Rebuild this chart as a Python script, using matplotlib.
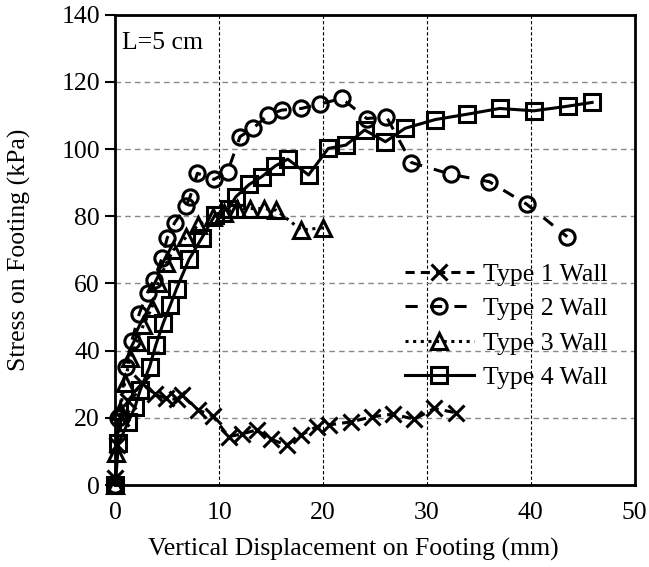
import matplotlib
matplotlib.use('Agg')
import matplotlib.pyplot as plt

plt.rcParams['font.family'] = ['Liberation Serif', 'DejaVu Serif']

# Type 1 wall
x1 = [0, 0.2, 0.5, 1.2, 2.6, 3.8, 4.9, 5.9, 6.4, 8.0, 9.4, 10.9, 12.2, 13.6, 15.0,
      16.5, 17.9, 19.4, 20.6, 22.7, 24.7, 26.7, 28.8, 30.7, 32.8]
y1 = [2, 12, 20, 25, 30.4, 27, 25.8, 25.5, 26.8, 22.3, 20.5, 14.4, 15.2, 16.4, 13.6,
      11.9, 14.9, 17.4, 17.9, 18.8, 20.3, 21.1, 19.6, 22.8, 21.5]

# Type 2 wall
x2 = [0, 0.3, 1.0, 1.6, 2.3, 3.1, 3.7, 4.5, 5.0, 5.7, 6.8, 7.2, 7.9, 9.5, 10.8, 12.0,
      13.3, 14.7, 16.0, 17.9, 19.7, 21.8, 24.2, 26.1, 28.5, 32.3, 36.0, 39.6, 43.5]
y2 = [0, 20, 35, 43, 51, 57.3, 61, 67.6, 73.6, 78, 83, 85.8, 92.8, 91, 93.2, 103.7,
      106.3, 110.1, 111.6, 112.1, 113.4, 115.1, 109.1, 109.6, 96, 92.5, 90.3, 83.6, 73.9]

# Type 3 wall
x3 = [0, 0.1, 0.45, 0.9, 1.4, 2.1, 2.7, 3.5, 4.1, 4.9, 5.6, 6.8, 8.0, 9.4, 10.5,
      11.7, 13.0, 14.3, 15.5, 17.9, 20.0]
y3 = [0, 9.4, 22, 30.3, 37.7, 42.7, 47.6, 52.6, 60, 66, 70, 73.7, 77.4, 79.9, 81,
      82.3, 82.3, 82.3, 81.8, 75.9, 76.6]

# Type 4 wall
x4 = [0, 0.3, 1.25, 1.9, 2.4, 3.3, 3.9, 4.6, 5.3, 5.9, 7.1, 8.3, 9.6, 10.9, 11.6,
      12.9, 14.1, 15.4, 16.6, 18.6, 20.5, 22.2, 24.0, 26.0, 27.9, 30.8, 33.9, 37.0,
      40.3, 43.6, 45.9]
y4 = [0, 12.4, 18.8, 23.3, 28.3, 35.2, 41.7, 48.1, 53.6, 58.5, 67.2, 73.4, 80.4, 82.3,
      85.8, 89.5, 91.8, 95, 97, 92.3, 100.2, 101.2, 105.7, 102.2, 106.2, 108.8, 110.4,
      112.1, 111.4, 112.8, 113.9]

fs = 18.5

fig = plt.figure(figsize=(6.49, 5.67), dpi=100)
ax = fig.add_axes([0.1777, 0.1446, 0.8003, 0.8294])

common = dict(color='black', linewidth=2.2, markersize=11, markeredgewidth=2.2,
              fillstyle='none', clip_on=False, zorder=3)
ax.plot(x1, y1, linestyle=(0, (3, 2)), marker='x', label='Type 1 Wall', **common)
ax.plot(x2, y2, linestyle=(0, (4, 4)), marker='o', label='Type 2 Wall', **common)
ax.plot(x3, y3, linestyle=(0, (1, 1.5)), marker='^', label='Type 3 Wall', **common)
ax.plot(x4, y4, linestyle='-', marker='s', label='Type 4 Wall', **common)

ax.set_xlim(0, 50)
ax.set_ylim(0, 140)
ax.set_xticks(range(0, 51, 10))
ax.set_yticks(range(0, 141, 20))

ax.yaxis.grid(True, color='#888888', linestyle=(0, (4, 3)), linewidth=1)
ax.xaxis.grid(True, color='black', linestyle=(0, (3, 2)), linewidth=0.8)
ax.set_axisbelow(True)

for s in ax.spines.values():
    s.set_linewidth(2)

ax.tick_params(axis='y', direction='out', length=7, width=1.5, labelsize=fs, pad=4)
ax.tick_params(axis='x', direction='in', length=0, labelsize=fs, pad=12)

ax.set_xlabel('Vertical Displacement on Footing (mm)', fontsize=fs)
ax.set_ylabel('Stress on Footing (kPa)', fontsize=fs)
ax.xaxis.set_label_coords(0.459, -0.112)
ax.yaxis.set_label_coords(-0.162, 0.5)

ax.text(0.65, 131.5, 'L=5 cm', fontsize=fs, va='center', ha='left')

ax.legend(loc='upper left', bbox_to_anchor=(0.557, 0.472), frameon=False,
          fontsize=fs, handlelength=2.7, handletextpad=0.35, labelspacing=0.44,
          borderaxespad=0, borderpad=0)

fig.savefig('out.png', dpi=100)
